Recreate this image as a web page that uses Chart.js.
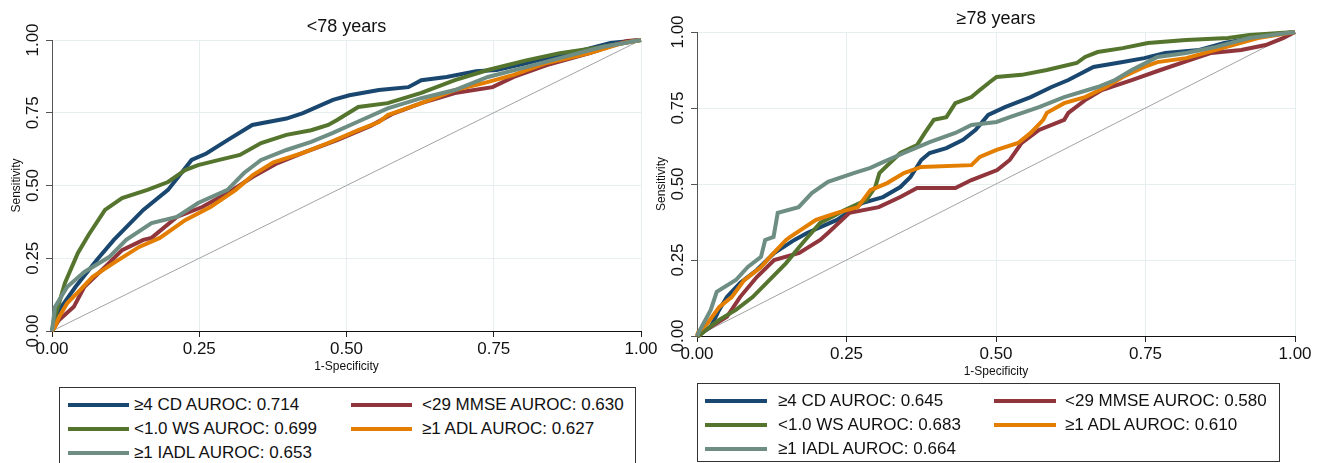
<!DOCTYPE html>
<html>
<head>
<meta charset="utf-8">
<script src="https://cdn.jsdelivr.net/npm/chart.js@4.4.1/dist/chart.umd.min.js"></script>
<style>
  html, body { margin: 0; padding: 0; background: #fff; }
  #page { position: relative; width: 1321px; height: 463px; overflow: hidden; background: #fff; }
  canvas { position: absolute; top: 0; }
  .legend { position: absolute; border: 1px solid #333; box-sizing: border-box;
            font-family: "Liberation Sans", Arial, sans-serif; font-size: 17px; color: #111; }
  .legend .swatch { position: absolute; height: 4px; }
  .legend .label { position: absolute; white-space: nowrap; line-height: 20px; }
</style>
</head>
<body>
<div id="page">
  <canvas id="youngChart" width="660" height="385" style="left:0px"></canvas>
  <canvas id="oldChart" width="676" height="385" style="left:645px"></canvas>
  <div id="youngLegend" class="legend" style="left:59px; top:387px; width:577px; height:84px"></div>
  <div id="oldLegend" class="legend" style="left:697px; top:383px; width:583px; height:79px"></div>
</div>
<script>
// ─── Data ────────────────────────────────────────────────────────────────────

// legend order (row by row, two columns)
const seriesNames = ["≥4 CD", "<29 MMSE", "<1.0 WS", "≥1 ADL", "≥1 IADL"];
const aurocYoung  = [0.714, 0.630, 0.699, 0.627, 0.653];
const aurocOld    = [0.645, 0.580, 0.683, 0.610, 0.664];

const tickValues = [0, 0.25, 0.5, 0.75, 1];
const tickLabels = ["0.00", "0.25", "0.50", "0.75", "1.00"];

// <78 years : 1-specificity / sensitivity
const youngCdFpr   = [0, 0.012, 0.04, 0.076, 0.105, 0.155, 0.197, 0.237, 0.262, 0.298, 0.34, 0.398, 0.426, 0.477, 0.505, 0.555, 0.605, 0.627, 0.67, 0.72, 0.755, 0.805, 0.84, 0.89, 0.948, 1];
const youngCdSens  = [0, 0.072, 0.152, 0.244, 0.313, 0.416, 0.485, 0.588, 0.61, 0.656, 0.708, 0.73, 0.749, 0.794, 0.81, 0.828, 0.838, 0.862, 0.873, 0.893, 0.897, 0.92, 0.938, 0.959, 0.99, 1];
const youngWsFpr   = [0, 0.005, 0.012, 0.022, 0.044, 0.062, 0.09, 0.119, 0.162, 0.197, 0.226, 0.248, 0.284, 0.319, 0.355, 0.398, 0.44, 0.469, 0.484, 0.52, 0.57, 0.627, 0.684, 0.74, 0.805, 0.862, 0.934, 1];
const youngWsSens  = [0, 0.05, 0.096, 0.165, 0.268, 0.33, 0.416, 0.457, 0.485, 0.512, 0.553, 0.57, 0.588, 0.605, 0.646, 0.674, 0.69, 0.708, 0.725, 0.77, 0.783, 0.818, 0.862, 0.897, 0.93, 0.955, 0.976, 1];
const youngIadlFpr = [0, 0.005, 0.026, 0.055, 0.097, 0.126, 0.169, 0.212, 0.248, 0.298, 0.326, 0.355, 0.398, 0.44, 0.476, 0.52, 0.57, 0.627, 0.684, 0.74, 0.805, 0.87, 0.934, 1];
const youngIadlSens= [0, 0.083, 0.152, 0.203, 0.254, 0.313, 0.371, 0.392, 0.44, 0.485, 0.543, 0.588, 0.622, 0.65, 0.68, 0.72, 0.765, 0.8, 0.828, 0.873, 0.907, 0.942, 0.976, 1];
const youngMmseFpr = [0, 0.012, 0.037, 0.055, 0.09, 0.119, 0.155, 0.169, 0.212, 0.255, 0.298, 0.341, 0.383, 0.426, 0.484, 0.541, 0.577, 0.627, 0.684, 0.748, 0.784, 0.84, 0.913, 0.976, 1];
const youngMmseSens= [0, 0.038, 0.083, 0.152, 0.22, 0.278, 0.313, 0.32, 0.392, 0.426, 0.474, 0.53, 0.577, 0.612, 0.656, 0.705, 0.745, 0.783, 0.818, 0.838, 0.873, 0.914, 0.955, 0.997, 1];
const youngAdlFpr  = [0, 0.005, 0.012, 0.026, 0.048, 0.069, 0.105, 0.148, 0.183, 0.226, 0.269, 0.312, 0.341, 0.376, 0.426, 0.469, 0.52, 0.555, 0.57, 0.627, 0.684, 0.733, 0.784, 0.84, 0.913, 0.97, 1];
const youngAdlSens = [0, 0.014, 0.048, 0.096, 0.141, 0.186, 0.234, 0.289, 0.32, 0.381, 0.426, 0.485, 0.536, 0.58, 0.612, 0.646, 0.69, 0.718, 0.742, 0.783, 0.828, 0.852, 0.88, 0.921, 0.955, 0.99, 1];

// ≥78 years
const oldCdFpr   = [0, 0.023, 0.037, 0.05, 0.072, 0.1, 0.129, 0.163, 0.184, 0.234, 0.276, 0.311, 0.34, 0.357, 0.375, 0.389, 0.417, 0.445, 0.466, 0.48, 0.487, 0.515, 0.558, 0.593, 0.621, 0.663, 0.712, 0.748, 0.783, 0.84, 0.882, 0.938, 1];
const oldCdSens  = [0, 0.03, 0.086, 0.128, 0.174, 0.217, 0.273, 0.316, 0.339, 0.382, 0.437, 0.457, 0.49, 0.523, 0.579, 0.602, 0.618, 0.645, 0.678, 0.711, 0.727, 0.753, 0.786, 0.819, 0.842, 0.885, 0.901, 0.914, 0.931, 0.941, 0.964, 0.984, 1];
const oldWsFpr   = [0, 0.005, 0.015, 0.037, 0.065, 0.093, 0.121, 0.149, 0.171, 0.181, 0.206, 0.247, 0.283, 0.298, 0.305, 0.34, 0.368, 0.381, 0.396, 0.417, 0.432, 0.459, 0.473, 0.494, 0.501, 0.543, 0.585, 0.635, 0.649, 0.67, 0.712, 0.754, 0.818, 0.888, 0.924, 1];
const oldWsSens  = [0, 0.003, 0.02, 0.053, 0.086, 0.128, 0.184, 0.24, 0.293, 0.316, 0.372, 0.414, 0.447, 0.49, 0.536, 0.602, 0.628, 0.668, 0.711, 0.72, 0.766, 0.786, 0.809, 0.842, 0.852, 0.859, 0.875, 0.898, 0.918, 0.934, 0.947, 0.964, 0.974, 0.98, 0.99, 1];
const oldIadlFpr = [0, 0.005, 0.023, 0.033, 0.065, 0.085, 0.107, 0.114, 0.128, 0.135, 0.17, 0.192, 0.219, 0.262, 0.29, 0.311, 0.346, 0.389, 0.432, 0.459, 0.501, 0.523, 0.572, 0.614, 0.67, 0.699, 0.727, 0.77, 0.818, 0.868, 0.924, 1];
const oldIadlSens= [0, 0.02, 0.086, 0.145, 0.184, 0.227, 0.26, 0.316, 0.326, 0.405, 0.424, 0.47, 0.507, 0.536, 0.553, 0.572, 0.602, 0.638, 0.668, 0.694, 0.704, 0.72, 0.753, 0.786, 0.819, 0.842, 0.875, 0.918, 0.931, 0.951, 0.98, 1];
const oldMmseFpr = [0, 0.001, 0.023, 0.05, 0.072, 0.1, 0.129, 0.171, 0.206, 0.219, 0.255, 0.304, 0.34, 0.368, 0.432, 0.459, 0.502, 0.523, 0.543, 0.572, 0.614, 0.621, 0.649, 0.677, 0.727, 0.775, 0.825, 0.86, 0.91, 0.951, 0.98, 1];
const oldMmseSens= [0, 0.003, 0.03, 0.063, 0.128, 0.194, 0.25, 0.273, 0.316, 0.339, 0.405, 0.424, 0.457, 0.487, 0.487, 0.513, 0.546, 0.579, 0.635, 0.678, 0.711, 0.734, 0.776, 0.809, 0.842, 0.875, 0.908, 0.931, 0.941, 0.957, 0.98, 1];
const oldAdlFpr  = [0, 0.002, 0.018, 0.037, 0.058, 0.079, 0.107, 0.128, 0.149, 0.156, 0.199, 0.234, 0.269, 0.29, 0.318, 0.346, 0.375, 0.459, 0.473, 0.501, 0.537, 0.558, 0.579, 0.585, 0.614, 0.649, 0.684, 0.712, 0.748, 0.77, 0.818, 0.868, 0.938, 1];
const oldAdlSens = [0, 0.013, 0.043, 0.095, 0.128, 0.184, 0.227, 0.273, 0.316, 0.326, 0.382, 0.405, 0.424, 0.48, 0.503, 0.536, 0.556, 0.562, 0.589, 0.612, 0.635, 0.668, 0.711, 0.734, 0.766, 0.786, 0.819, 0.852, 0.885, 0.901, 0.914, 0.941, 0.98, 1];

const referenceLine = [0, 1];

// ─── Styles ──────────────────────────────────────────────────────────────────

const seriesColors = ["#1a476f", "#90353b", "#55752f", "#e37e00", "#6e8e84"];
// later plots sit on top (lower order = drawn last)
const seriesOrder  = [5, 4, 3, 2, 1];
const FONT = "'Liberation Sans', Arial, sans-serif";

Chart.defaults.font.family = FONT;
Chart.defaults.color = "#000";

// ─── Build ───────────────────────────────────────────────────────────────────

function toPoints(xs, ys) {
  return xs.map((x, i) => ({ x, y: ys[i] }));
}

function axisOptions(kind, cfg) {
  const isY = kind === "y";
  return {
    type: "linear",
    min: 0,
    max: 1,
    afterBuildTicks: axis => { axis.ticks = tickValues.map(v => ({ value: v })); },
    afterFit: scale => {
      if (isY) scale.width = cfg.yWidth;
      else scale.height = cfg.xHeight;
    },
    grid: {
      color: "#e6eef0",
      lineWidth: 1,
      tickColor: isY ? "#555" : "#222",
      tickLength: 6
    },
    border: { color: isY ? "#555" : "#111", width: 1 },
    ticks: isY ? {
      font: { size: 17 },
      color: "#111",
      minRotation: 90,
      maxRotation: 90,
      crossAlign: "center",
      padding: -4,
      callback: (v, i) => tickLabels[i]
    } : {
      font: { size: 17 },
      color: "#111",
      maxRotation: 0,
      padding: 2,
      autoSkip: false,
      callback: (v, i) => tickLabels[i]
    },
    title: isY ? {
      display: true,
      text: "Sensitivity",
      font: { size: 12 },
      color: "#111",
      padding: { top: 9, bottom: 0 }
    } : {
      display: true,
      text: "1-Specificity",
      font: { size: 12 },
      color: "#111",
      padding: { top: 0, bottom: cfg.xTitlePad }
    }
  };
}

function buildChart(canvasId, cfg) {
  const datasets = cfg.curves.map((c, i) => ({
    label: seriesNames[i],
    data: toPoints(c[0], c[1]),
    showLine: true,
    borderColor: seriesColors[i],
    backgroundColor: seriesColors[i],
    borderWidth: 4,
    pointRadius: 0,
    tension: 0,
    clip: false,
    order: seriesOrder[i]
  }));

  datasets.push({
    label: "reference",
    data: toPoints(referenceLine, referenceLine),
    showLine: true,
    borderColor: "#a3a3a3",
    borderWidth: 1,
    pointRadius: 0,
    order: 10
  });

  return new Chart(document.getElementById(canvasId), {
    type: "scatter",
    data: { datasets },
    options: {
      responsive: false,
      animation: false,
      devicePixelRatio: 1,
      layout: { padding: { left: 0, right: cfg.padRight, top: 0, bottom: 0 } },
      plugins: {
        legend: { display: false },
        tooltip: { enabled: false },
        title: {
          display: true,
          text: cfg.title,
          fullSize: false,
          color: "#111",
          font: { size: 18, weight: "normal" },
          padding: { top: cfg.titleTop, bottom: cfg.titleBottom }
        }
      },
      scales: {
        x: axisOptions("x", cfg),
        y: axisOptions("y", cfg)
      }
    }
  });
}

function buildLegend(elId, auroc, layout) {
  const box = document.getElementById(elId);
  box.innerHTML = seriesNames.map((name, i) => {
    const row = Math.floor(i / 2);
    const col = i % 2;
    const cy = layout.rowTop + row * layout.rowGap;
    return `
      <div class="swatch" style="left:${layout.lineX[col]}px; top:${cy - 2}px; width:${layout.lineW}px; background:${seriesColors[i]}"></div>
      <div class="label" style="left:${layout.textX[col]}px; top:${cy - 10}px">${escapeHtml(name)} AUROC: ${auroc[i].toFixed(3)}</div>
    `;
  }).join("");
}

function escapeHtml(s) {
  return String(s || "")
    .replaceAll("&", "&amp;")
    .replaceAll("<", "&lt;")
    .replaceAll(">", "&gt;");
}

buildChart("youngChart", {
  title: "<78 years",
  titleTop: 16,
  titleBottom: 2.4,
  padRight: 19,
  yWidth: 52,
  xHeight: 54,
  xTitlePad: 11,
  curves: [
    [youngCdFpr, youngCdSens],
    [youngMmseFpr, youngMmseSens],
    [youngWsFpr, youngWsSens],
    [youngAdlFpr, youngAdlSens],
    [youngIadlFpr, youngIadlSens]
  ]
});

buildChart("oldChart", {
  title: "≥78 years",
  titleTop: 8,
  titleBottom: 2.4,
  padRight: 26,
  yWidth: 52,
  xHeight: 49,
  xTitlePad: 6,
  curves: [
    [oldCdFpr, oldCdSens],
    [oldMmseFpr, oldMmseSens],
    [oldWsFpr, oldWsSens],
    [oldAdlFpr, oldAdlSens],
    [oldIadlFpr, oldIadlSens]
  ]
});

buildLegend("youngLegend", aurocYoung, { rowTop: 17, rowGap: 24, lineX: [8, 291], lineW: 61, textX: [74, 362] });
buildLegend("oldLegend", aurocOld, { rowTop: 17, rowGap: 24, lineX: [7, 296], lineW: 62, textX: [80, 367] });
</script>
</body>
</html>
